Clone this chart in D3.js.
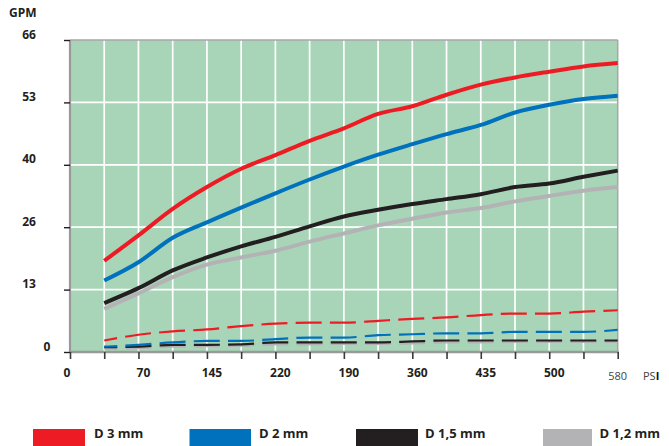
<!DOCTYPE html>
<html>
<head>
<meta charset="utf-8">
<script src="https://cdn.jsdelivr.net/npm/d3@7/dist/d3.min.js"></script>
<style>
  html, body { margin: 0; padding: 0; background: #fff; }
  svg { display: block; font-family: "Open Sans", "Noto Sans", sans-serif; }
</style>
</head>
<body>
<svg id="chart" width="669" height="446"></svg>
<script>
// ---------- DATA ----------
const steps = [1, 2, 3, 4, 5, 6, 7, 8, 9, 10, 11, 12, 13, 14, 15, 16];
const xTickLabels = ["0", "70", "145", "220", "190", "360", "435", "500"];
const xTickAt = [0, 2, 4, 6, 8, 10, 12, 14];
const xEndLabel = "580";
const yTickValues = [0, 13, 26, 40, 53, 66];
const yTickLabels = ["0", "13", "26", "40", "53", "66"];
const seriesNames = ["D 3 mm", "D 2 mm", "D 1,5 mm", "D 1,2 mm"];
const seriesColors = ["#ed1c24", "#0071bc", "#231f20", "#b3b3b6"];

const d3mm  = [19.0, 24.3, 30.1, 35.0, 39.1, 42.0, 45.0, 47.6, 50.6, 52.2, 54.6, 56.7, 58.2, 59.4, 60.5, 61.2];
const d2mm  = [14.9, 18.7, 23.8, 27.1, 30.4, 33.6, 36.7, 39.6, 42.1, 44.3, 46.4, 48.3, 50.9, 52.5, 53.7, 54.4];
const d15mm = [10.2, 13.3, 17.0, 19.7, 22.0, 24.0, 26.2, 28.4, 29.9, 31.2, 32.3, 33.4, 35.0, 35.8, 37.3, 38.7];
const d12mm = [9.0, 12.2, 15.6, 18.2, 19.7, 21.1, 23.0, 24.7, 26.4, 27.9, 29.3, 30.3, 31.8, 33.0, 34.2, 35.0];

const d3mmLow  = [2.4, 3.6, 4.3, 4.7, 5.4, 5.9, 6.1, 6.1, 6.5, 6.9, 7.2, 7.7, 8.0, 8.0, 8.4, 8.7];
const d2mmLow  = [1.1, 1.5, 2.0, 2.3, 2.3, 2.7, 3.0, 3.0, 3.5, 3.7, 3.9, 3.9, 4.2, 4.2, 4.2, 4.6];
const d15mmLow = [1.0, 1.1, 1.5, 1.5, 1.6, 2.0, 2.0, 2.0, 2.0, 2.2, 2.4, 2.4, 2.4, 2.4, 2.4, 2.4];
const d12mmLow = [0.7, 0.8, 1.1, 1.2, 1.3, 1.6, 1.6, 1.7, 1.7, 1.8, 2.0, 2.0, 2.1, 2.1, 2.1, 2.1];

// ---------- LAYOUT ----------
const L = 70, R = 617.7, T = 40, B = 352;
const svg = d3.select("#chart");
const x = d3.scaleLinear().domain([0, 16]).range([L, R]);
const y = d3.scaleLinear().domain(yTickValues).range(yTickValues.map((d, i) => B - i * (B - T) / 5));
const textColor = "#231f20";

// background
svg.append("rect").attr("x", L).attr("y", T).attr("width", R - L).attr("height", B - T).attr("fill", "#a8d5b7");

// grid
const gridX = d3.range(1, 16);
svg.append("g").selectAll("line").data(gridX).join("line")
  .attr("x1", d => x(d)).attr("x2", d => x(d)).attr("y1", T).attr("y2", B)
  .attr("stroke", "#fff").attr("stroke-width", 1.7);
svg.append("g").selectAll("line").data(yTickValues.slice(1, 5)).join("line")
  .attr("x1", L).attr("x2", R).attr("y1", d => y(d)).attr("y2", d => y(d))
  .attr("stroke", "#fff").attr("stroke-width", 1.7);

// borders
svg.append("line").attr("x1", L).attr("x2", R).attr("y1", T).attr("y2", T).attr("stroke", "#a6a6a6").attr("stroke-width", 1.5);
svg.append("line").attr("x1", R).attr("x2", R).attr("y1", T).attr("y2", B).attr("stroke", "#a6a6a6").attr("stroke-width", 1.5);

// lines
const line = d3.line().x((d, i) => x(steps[i])).y(d => y(d)).curve(d3.curveMonotoneX);
const lowSeries = [d12mmLow, d15mmLow, d2mmLow, d3mmLow];
const lowColors = [seriesColors[3], seriesColors[2], seriesColors[1], seriesColors[0]];
const step = x(1) - x(0);
const dash = step * 0.76, gap = step - dash;
lowSeries.forEach((s, k) => {
  svg.append("path").datum(s).attr("d", line).attr("fill", "none")
    .attr("stroke", lowColors[k]).attr("stroke-width", 2.2)
    .attr("stroke-dasharray", dash + " " + gap).attr("stroke-dashoffset", dash / 2);
});
const highSeries = [d12mm, d15mm, d2mm, d3mm];
highSeries.forEach((s, k) => {
  svg.append("path").datum(s).attr("d", line).attr("fill", "none")
    .attr("stroke", lowColors[k]).attr("stroke-width", 4).attr("stroke-linejoin", "round");
});

// axes lines
svg.append("line").attr("x1", L).attr("x2", L).attr("y1", T).attr("y2", B + 1).attr("stroke", "#999").attr("stroke-width", 2.2);
svg.append("line").attr("x1", L).attr("x2", R + 1).attr("y1", B).attr("y2", B).attr("stroke", "#999").attr("stroke-width", 2.4);

// y axis ticks & labels
const yAxis = d3.axisLeft(y).tickValues(yTickValues).tickSize(6).tickFormat((d, i) => yTickLabels[i]);
const gy = svg.append("g").attr("transform", `translate(${L},0)`).call(yAxis);
gy.select(".domain").remove();
gy.selectAll(".tick line").attr("stroke", textColor).attr("stroke-width", 1.4);
gy.selectAll(".tick text")
  .attr("x", d => d === 0 ? -23 : -41).attr("dy", -2).attr("text-anchor", "middle")
  .attr("font-size", 12).attr("font-weight", "bold").attr("fill", textColor)
  .attr("font-family", "'Open Sans', sans-serif");

// x axis ticks
const xAxis = d3.axisBottom(x).tickValues(d3.range(0, 17)).tickSize(7).tickFormat("");
const gx = svg.append("g").attr("transform", `translate(0,${B})`).call(xAxis);
gx.select(".domain").remove();
gx.selectAll(".tick line").attr("stroke", "#3a3a3a").attr("stroke-width", 1.6);

// x labels
svg.append("g").selectAll("text").data(xTickLabels).join("text")
  .attr("x", (d, i) => x(xTickAt[i]) + (i === 0 ? -3 : 5))
  .attr("y", 377).attr("text-anchor", "middle")
  .attr("font-size", 12).attr("font-weight", "bold").attr("fill", textColor)
  .text(d => d);
svg.append("text").attr("x", x(16)).attr("y", 380).attr("text-anchor", "middle")
  .attr("font-size", 11).attr("fill", "#444").text(xEndLabel);
const psi = svg.append("text").attr("x", 643).attr("y", 380).attr("font-size", 11).attr("fill", "#444");
psi.append("tspan").text("PS");
psi.append("tspan").attr("font-weight", "bold").attr("fill", "#111").text("I");

// y title
svg.append("text").attr("x", 9).attr("y", 17).attr("font-size", 12).attr("font-weight", "bold")
  .attr("fill", textColor).text("GPM");

// legend
const legendLayout = [
  { rx: 33, rw: 52, tx: 94 },
  { rx: 189.5, rw: 61.5, tx: 259 },
  { rx: 356, rw: 62, tx: 425 },
  { rx: 543, rw: 49, tx: 599.5 }
];
const lg = svg.append("g");
seriesNames.forEach((name, i) => {
  const p = legendLayout[i];
  lg.append("rect").attr("x", p.rx).attr("y", 429).attr("width", p.rw).attr("height", 20).attr("fill", seriesColors[i]);
  lg.append("text").attr("x", p.tx).attr("y", 438).attr("font-size", 13).attr("font-weight", "bold")
    .attr("fill", textColor).attr("textLength", null).text(name);
});
</script>
</body>
</html>
